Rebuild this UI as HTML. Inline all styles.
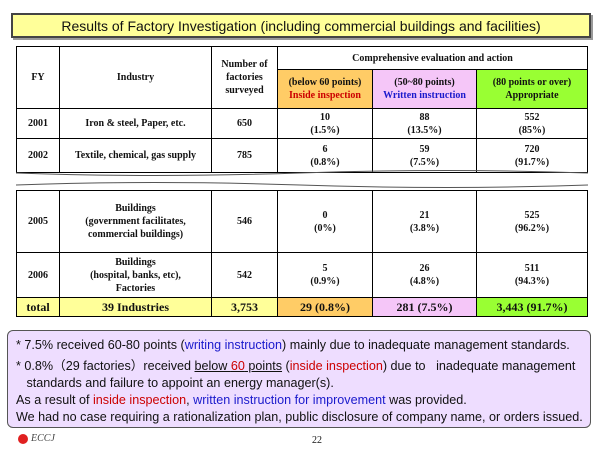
<!DOCTYPE html>
<html><head><meta charset="utf-8"><style>
*{margin:0;padding:0;box-sizing:border-box}
body{width:600px;height:450px;background:#fff;position:relative;overflow:hidden;font-family:"Liberation Serif",serif}
.c{position:absolute;border:1px solid #000;display:flex;align-items:center;justify-content:center;text-align:center;font-weight:bold;font-size:10px;line-height:13px;color:#111}
.r{color:#cc0000}.b{color:#1a1acc}
.s{font-family:"Liberation Sans",sans-serif}
</style></head><body>
<div class="s" style="position:absolute;left:11px;top:13px;width:580px;height:25px;background:#ffff99;border:2px solid #444;box-shadow:2px 2px 0 #999;font-size:14px;display:flex;align-items:center;justify-content:center;color:#111">Results of Factory Investigation (including commercial buildings and facilities)</div>

<div>
<div class="c" style="left:16px;top:46px;width:44px;height:63px">FY</div>
<div class="c" style="left:59px;top:46px;width:153px;height:63px">Industry</div>
<div class="c" style="left:211px;top:46px;width:67px;height:63px"><div>Number of<br>factories<br>surveyed</div></div>
<div class="c" style="left:277px;top:46px;width:311px;height:24px">Comprehensive evaluation and action</div>
<div class="c" style="left:277px;top:69px;width:96px;height:40px;background:#ffcc66"><div>(below 60 points)<br><span class="r">Inside inspection</span></div></div>
<div class="c" style="left:372px;top:69px;width:105px;height:40px;background:#f5c6f8"><div>(50~80 points)<br><span class="b">Written instruction</span></div></div>
<div class="c" style="left:476px;top:69px;width:112px;height:40px;background:#99ff33"><div>(80 points or over)<br>Appropriate</div></div>

<div class="c" style="left:16px;top:108px;width:44px;height:31px">2001</div>
<div class="c" style="left:59px;top:108px;width:153px;height:31px">Iron &amp; steel, Paper, etc.</div>
<div class="c" style="left:211px;top:108px;width:67px;height:31px">650</div>
<div class="c" style="left:277px;top:108px;width:96px;height:31px"><div>10<br>(1.5%)</div></div>
<div class="c" style="left:372px;top:108px;width:105px;height:31px"><div>88<br>(13.5%)</div></div>
<div class="c" style="left:476px;top:108px;width:112px;height:31px"><div>552<br>(85%)</div></div>

<div class="c" style="left:16px;top:138px;width:44px;height:35px">2002</div>
<div class="c" style="left:59px;top:138px;width:153px;height:35px">Textile, chemical, gas supply</div>
<div class="c" style="left:211px;top:138px;width:67px;height:35px">785</div>
<div class="c" style="left:277px;top:138px;width:96px;height:35px"><div>6<br>(0.8%)</div></div>
<div class="c" style="left:372px;top:138px;width:105px;height:35px"><div>59<br>(7.5%)</div></div>
<div class="c" style="left:476px;top:138px;width:112px;height:35px"><div>720<br>(91.7%)</div></div>

<svg style="position:absolute;left:0;top:170px" width="600" height="22">
<path d="M16 3 Q150 8 300 3 T588 3" fill="none" stroke="#555" stroke-width="1"/>
<path d="M16 15 Q150 10 300 15 T588 15" fill="none" stroke="#555" stroke-width="1"/>
</svg>

<div class="c" style="left:16px;top:190px;width:44px;height:63px">2005</div>
<div class="c" style="left:59px;top:190px;width:153px;height:63px"><div>Buildings<br>(government facilitates,<br>commercial buildings)</div></div>
<div class="c" style="left:211px;top:190px;width:67px;height:63px">546</div>
<div class="c" style="left:277px;top:190px;width:96px;height:63px"><div>0<br>(0%)</div></div>
<div class="c" style="left:372px;top:190px;width:105px;height:63px"><div>21<br>(3.8%)</div></div>
<div class="c" style="left:476px;top:190px;width:112px;height:63px"><div>525<br>(96.2%)</div></div>

<div class="c" style="left:16px;top:252px;width:44px;height:46px">2006</div>
<div class="c" style="left:59px;top:252px;width:153px;height:46px"><div>Buildings<br>(hospital, banks, etc),<br>Factories</div></div>
<div class="c" style="left:211px;top:252px;width:67px;height:46px">542</div>
<div class="c" style="left:277px;top:252px;width:96px;height:46px"><div>5<br>(0.9%)</div></div>
<div class="c" style="left:372px;top:252px;width:105px;height:46px"><div>26<br>(4.8%)</div></div>
<div class="c" style="left:476px;top:252px;width:112px;height:46px"><div>511<br>(94.3%)</div></div>

<div class="c" style="left:16px;top:297px;width:44px;height:20px;background:#ffff99;font-size:12px">total</div>
<div class="c" style="left:59px;top:297px;width:153px;height:20px;background:#ffff99;font-size:12px">39 Industries</div>
<div class="c" style="left:211px;top:297px;width:67px;height:20px;background:#ffff99;font-size:12px">3,753</div>
<div class="c" style="left:277px;top:297px;width:96px;height:20px;background:#ffcc66;font-size:12px">29 (0.8%)</div>
<div class="c" style="left:372px;top:297px;width:105px;height:20px;background:#f5c6f8;font-size:12px">281 (7.5%)</div>
<div class="c" style="left:476px;top:297px;width:112px;height:20px;background:#99ff33;font-size:12px">3,443 (91.7%)</div>
</div>

<div class="s" style="position:absolute;left:7px;top:330px;width:584px;height:98px;background:#eeddff;border:1px solid #555;border-radius:6px;font-size:12.6px;color:#111;padding:3px 0 0 8px;line-height:18px;white-space:nowrap">
<div style="margin-top:2px">* 7.5% received 60-80 points (<span class="b">writing instruction</span>) mainly due to inadequate management standards.</div>
<div style="margin-top:4px;line-height:17px">* 0.8%（29 factories）received <u>below <span class="r">60</span> points</u> (<span class="r">inside inspection</span>) due to &nbsp; inadequate management<br>&nbsp;&nbsp; standards and failure to appoint an energy manager(s).</div>
<div style="line-height:17px">As a result of <span class="r">inside inspection</span>, <span class="b">written instruction for improvement</span> was provided.</div>
<div style="line-height:17px">We had no case requiring a rationalization plan, public disclosure of company name, or orders issued.</div>
</div>

<div style="position:absolute;left:18px;top:433px;display:flex;align-items:center;font-style:italic;font-size:10px;color:#444"><span style="display:inline-block;width:10px;height:10px;border-radius:50%;background:#e02020;margin-right:3px"></span>ECCJ</div>
<div style="position:absolute;left:312px;top:435px;font-size:10px;color:#111">22</div>
</body></html>
